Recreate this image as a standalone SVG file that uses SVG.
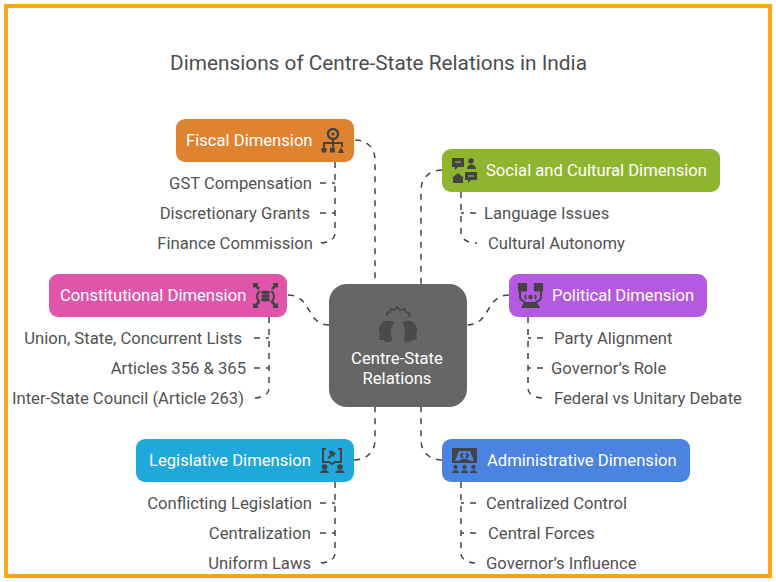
<svg xmlns="http://www.w3.org/2000/svg" width="776" height="582" viewBox="0 0 776 582">
<style>
text{font-family:Roboto,"Liberation Sans",sans-serif}
.t{font-size:20.800px;fill:#4d4d4d}
.h{font-size:16.640px;fill:#fff}
.i{font-size:16.640px;fill:#525252}
.c{fill:none;stroke:#444;stroke-width:1.500;stroke-dasharray:6 6}
.g{fill:#444}
.s{fill:none;stroke:#444;stroke-width:2}
.l{fill:none;stroke-width:1.200}
</style>
<rect x="0" y="0" width="776" height="582" fill="#fff"/>
<rect x="6" y="6" width="764" height="570" fill="none" stroke="#fda513" stroke-width="4"/>
<text class="t" x="378.500" y="70" text-anchor="middle">Dimensions of Centre-State Relations in India</text>
<g id="connectors">
<path class="c" d="M355 140C367 140 375 148 375 160V284"/>
<path class="c" d="M442 170C430 170 421 178 421 190V284"/>
<path class="c" d="M288 295C312 295 306 325 329 325"/>
<path class="c" d="M509 295C485 295 491 325 467 325"/>
<path class="c" d="M354 460C366 460 375 452 375 440V407"/>
<path class="c" d="M442 460C430 460 421 452 421 440V407"/>
<path class="c" d="M335 162V233C335 239 329 243 319 243"/>
<path class="c" d="M320 183H335M320 213H335"/>
<path class="c" d="M461 192V233C461 239 467 243 477 243"/>
<path class="c" d="M476 213H461"/>
<path class="c" d="M269 317V388C269 394 263 398 253 398"/>
<path class="c" d="M254 338H269M254 368H269"/>
<path class="c" d="M528 317V388C528 394 534 398 544 398"/>
<path class="c" d="M543 338H528M543 368H528"/>
<path class="c" d="M335 482V553C335 559 329 563 319 563"/>
<path class="c" d="M320 503H335M320 533H335"/>
<path class="c" d="M461 482V553C461 559 467 563 477 563"/>
<path class="c" d="M476 503H461M476 533H461"/>
</g>
<g id="center">
<rect x="329" y="284" width="138" height="123" rx="18" fill="#666"/>
<path fill="#4a4a4a" d="M394 322c-4-2-11-2-13 2-3 4-2 8-1 11l-1 5h5l1 2h6l1-4c-2-5-1-11 2-16zM402 322c4-2 11-2 13 2 3 4 2 8 1 11l1 5h-5l-1 2h-6l-1-4c2-5 1-11-2-16z"/>
<path d="M387 316v-3l3-1 1-3 4 1 2-3 3 3 4-1 2 3 3 1 1 4" fill="none" stroke="#4a4a4a" stroke-width="2"/>
<text class="h" x="397" y="364" text-anchor="middle">Centre-State</text>
<text class="h" x="397" y="384" text-anchor="middle">Relations</text>
</g>
<g id="fiscal">
<rect x="176" y="119" width="178" height="43" rx="9" fill="#e08331"/>
<text class="h" x="186" y="146">Fiscal Dimension</text>
<circle cx="333" cy="134" r="5" fill="none" stroke="#444" stroke-width="2.500"/>
<circle class="g" cx="333" cy="134" r="1.500"/>
<path class="s" d="M333 140v7M324 147v-4h18v4" stroke-width="1.500"/>
<circle class="g" cx="324" cy="150" r="2.700"/><rect class="g" x="330" y="147.500" width="5" height="5"/><path class="g" d="M338 153l3-6 3 6z"/>
</g>
<g id="social">
<rect x="442" y="149" width="278" height="43" rx="9" fill="#8fb52f"/>
<text class="h" x="486" y="176">Social and Cultural Dimension</text>
<path class="g" d="M452 158h12v9h-6l-3 3v-3h-3z"/>
<path class="l" stroke="#8fb52f" d="M455 162h6"/>
<circle class="g" cx="471" cy="161" r="2.800"/><path class="g" d="M467 169c0-6 9-6 9 0z"/>
<path class="g" d="M452 178l6-5 6 5-1 0v5h-10v-5z"/>
<path class="g" d="M465 172h12v8h-6l-3 3v-3h-3z"/>
<path class="l" stroke="#8fb52f" d="M468 176h6"/>
</g>
<g id="constitutional">
<rect x="49" y="274" width="238" height="43" rx="9" fill="#e055a9"/>
<text class="h" x="60" y="301">Constitutional Dimension</text>
<path class="g" d="M253 283h5v2l-1 0 3 3-2 2-3-3-2 1zM278 283h-5v2l1 0-3 3 2 2 3-3 2 1zM253 308h5v-2l-1 0 3-3-2-2-3 3-2-1zM278 308h-5v-2l1 0-3-3 2-2 3 3 2-1z"/>
<path class="s" stroke-width="1.700" d="M260 291c-4 3-4 8 0 11M271 291c4 3 4 8 0 11"/>
<ellipse class="g" cx="265.500" cy="292.500" rx="4.500" ry="2"/>
<ellipse class="g" cx="265.500" cy="296" rx="4.500" ry="1.600"/>
<ellipse class="g" cx="265.500" cy="299.500" rx="4.500" ry="2"/>
</g>
<g id="political">
<rect x="509" y="274" width="198" height="43" rx="9" fill="#b55ae0"/>
<text class="h" x="552" y="301">Political Dimension</text>
<rect class="g" x="518" y="283" width="9" height="8.500"/><rect class="g" x="534" y="283" width="9" height="8.500"/>
<path class="s" d="M520 291v6c0 3 2 4 5 5M541 291v6c0 3-2 4-5 5"/>
<circle class="g" cx="530.500" cy="297" r="2.200"/>
<path class="s" stroke-width="1" d="M526 295c-1 1-1 3 0 4M535 295c1 1 1 3 0 4"/>
<path class="g" d="M521 308l3-6h13l3 6z"/>
</g>
<g id="legislative">
<rect x="136" y="439" width="218" height="43" rx="9" fill="#1fa8da"/>
<text class="h" x="149" y="466">Legislative Dimension</text>
<path class="s" stroke-width="1.500" d="M326 449h-3v13h6l3 2 3-2h6v-13h-3"/>
<path class="g" d="M330 450l6 3-3 4-1-1-3 3-1.500-1.500 3-3-1.500-1z"/>
<circle class="g" cx="324.500" cy="467" r="2.800"/><circle class="g" cx="340" cy="467" r="2.800"/>
<path class="g" d="M320 473c0-4 9-4 9 0zM335.500 473c0-4 9-4 9 0z"/>
</g>
<g id="administrative">
<rect x="442" y="439" width="248" height="43" rx="9" fill="#4b83e0"/>
<text class="h" x="487" y="466">Administrative Dimension</text>
<path class="g" fill-rule="evenodd" d="M452 448h25v15h-25zM459 451l-4 10h3l5-2 3 0 5 2h3l-4-10z"/>
<path class="s" stroke-width="1" d="M463 453l-2 2.500 2 2.500M466 453l2 2.500-2 2.500"/>
<circle class="g" cx="455.500" cy="467" r="2.200"/><circle class="g" cx="464.500" cy="467" r="2.200"/><circle class="g" cx="473.500" cy="467" r="2.200"/>
<path class="g" d="M452 473c0-4 7-4 7 0zM461 473c0-4 7-4 7 0zM470 473c0-4 7-4 7 0z"/>
</g>
<g id="items">
<text class="i" x="312" y="189" text-anchor="end">GST Compensation</text>
<text class="i" x="310" y="219" text-anchor="end">Discretionary Grants</text>
<text class="i" x="313" y="249" text-anchor="end">Finance Commission</text>
<text class="i" x="484" y="219">Language Issues</text>
<text class="i" x="488" y="249">Cultural Autonomy</text>
<text class="i" x="242" y="344" text-anchor="end">Union, State, Concurrent Lists</text>
<text class="i" x="246" y="374" text-anchor="end">Articles 356 &amp; 365</text>
<text class="i" x="244" y="404" text-anchor="end">Inter-State Council (Article 263)</text>
<text class="i" x="554" y="344">Party Alignment</text>
<text class="i" x="551" y="374">Governor’s Role</text>
<text class="i" x="554" y="404">Federal vs Unitary Debate</text>
<text class="i" x="312" y="509" text-anchor="end">Conflicting Legislation</text>
<text class="i" x="311" y="539" text-anchor="end">Centralization</text>
<text class="i" x="311" y="569" text-anchor="end">Uniform Laws</text>
<text class="i" x="486" y="509">Centralized Control</text>
<text class="i" x="488" y="539">Central Forces</text>
<text class="i" x="486" y="569">Governor’s Influence</text>
</g>
</svg>
